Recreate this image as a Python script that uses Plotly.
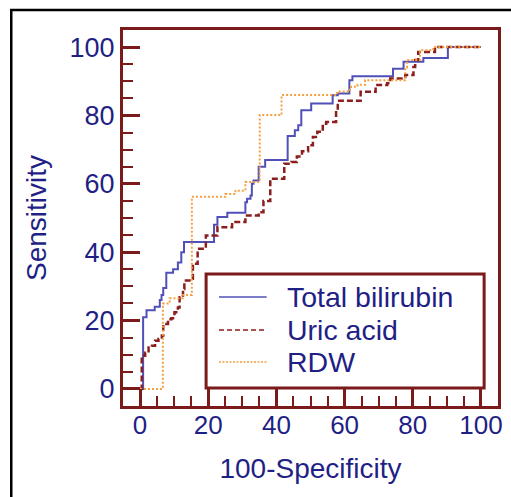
import plotly.graph_objects as go

# ---- data ----
series_names = ["Total bilirubin", "Uric acid", "RDW"]

fpr_bilirubin = [0, 0.9, 1.9, 4.3, 5.8, 6.3, 6.8, 7.7, 9.7, 11.1, 12.1, 12.9, 21.7, 22.7, 25.6,
                 30.9, 31.4, 32.4, 32.8, 33.3, 34.8, 36.7, 43.3, 45.4, 46.4, 47.3, 50.2, 56.5,
                 58.0, 61.4, 62.3, 74.2, 77.3, 83.1, 90.3, 100]
tpr_bilirubin = [0, 21, 23, 24, 26, 27.5, 29.5, 34, 35, 37, 40, 43, 48, 50.3, 51.5,
                 54.6, 55.6, 56.6, 60, 61, 65, 67, 74, 75.7, 77.1, 81.5, 83.5, 85.9,
                 86.4, 90.3, 91.5, 93.7, 95.7, 96.8, 100, 100]

fpr_uric = [0, 0.5, 1.5, 2.5, 3.5, 4.4, 5.4, 6.4, 6.8, 8.2, 9.2, 10.1, 11.1, 11.6, 12.6, 13.0,
            14.5, 15.5, 16.9, 19.3, 22.7, 27.0, 30.9, 34.8, 36.2, 38.2, 42.3, 44.4, 46.0, 47.5,
            49.3, 50.7, 52.0, 53.6, 54.6, 57.5, 58.0, 64.7, 69.1, 72.5, 73.4, 77.8, 80.2, 80.7,
            81.6, 86.5, 100]
tpr_uric = [0, 9.7, 10.6, 12.1, 12.6, 14.1, 14.6, 15.6, 19, 20.4, 20.7, 22.4, 23.8, 26.8, 29.2, 31.7,
            32.2, 36.6, 41, 44.9, 47.3, 48.8, 50.7, 51.7, 55, 61.5, 65.9, 66.4, 68, 69.5,
            71.3, 73.7, 75.2, 77.6, 78.1, 81.5, 84.3, 86.9, 88.9, 89.4, 90.8, 91.8, 94.2, 96.2,
            98.6, 100, 100]

fpr_rdw = [0, 6.7, 8.7, 12.5, 15.2, 25.0, 28.0, 30.9, 35.1, 41.5, 57.8, 60.9, 61.9, 63.8,
           66.0, 77.8, 78.3, 82.1, 86.0, 100]
tpr_rdw = [0, 25, 26.5, 27.5, 56.2, 57, 58, 60.5, 80.1, 86, 87, 87.5, 88.4, 89,
           90.3, 94, 96.2, 99.1, 100, 100]

x_ticks = [0, 20, 40, 60, 80, 100]
y_ticks = [0, 20, 40, 60, 80, 100]

# ---- styling ----
FRAME = "#7A1A1A"
TEXT = "#1F1F85"
FONT = "Liberation Sans, Arial, sans-serif"
colors = ["#5050B8", "#8B1E1E", "#F4A040"]
widths = [2, 2.5, 2]
dashes = ["solid", "6px,3px", "2px,2px"]

fig = go.Figure()
for name, xs, ys, c, w, d in zip(series_names,
                                 [fpr_bilirubin, fpr_uric, fpr_rdw],
                                 [tpr_bilirubin, tpr_uric, tpr_rdw],
                                 colors, widths, dashes):
    fig.add_trace(go.Scatter(x=xs, y=ys, mode="lines", name=name, showlegend=False,
                             line=dict(color=c, width=w, dash=d, shape="hv")))

axis_common = dict(
    range=[-5, 105],
    showline=True, linecolor=FRAME, linewidth=3, mirror=True,
    ticks="inside", ticklen=17, tickwidth=2.5, tickcolor=FRAME,
    minor=dict(ticks="inside", dtick=5, ticklen=10, tickwidth=2, tickcolor=FRAME),
    showgrid=False, zeroline=False,
)

fig.update_xaxes(**axis_common, tickvals=x_ticks, ticklabelstandoff=-6,
                 tickfont=dict(family=FONT, size=26, color=TEXT),
                 title=dict(text="100-Specificity", font=dict(family=FONT, size=28, color=TEXT), standoff=20))
fig.update_yaxes(**axis_common, tickvals=y_ticks,
                 tickfont=dict(family=FONT, size=27, color=TEXT),
                 title=dict(text="Sensitivity", font=dict(family=FONT, size=28, color=TEXT), standoff=15))

# ---- legend box (drawn as layout decoration, in paper coordinates) ----
leg_x0, leg_x1, leg_y0, leg_y1 = 0.2216, 0.963, 0.048, 0.351
row_y = [0.290, 0.202, 0.117]
sample_x0, sample_x1, text_x = 0.256, 0.383, 0.433

shapes = [
    dict(type="rect", xref="paper", yref="paper",
         x0=-0.298, x1=1.2, y0=-0.4, y1=1.053,
         line=dict(color="black", width=2.5), layer="below"),
    dict(type="rect", xref="paper", yref="paper",
         x0=leg_x0, x1=leg_x1, y0=leg_y0, y1=leg_y1,
         line=dict(color=FRAME, width=3), fillcolor="white", layer="above"),
]
annotations = []
for name, c, d, ry in zip(series_names, colors, ["solid", "5px,3px", "2px,1.5px"], row_y):
    shapes.append(dict(type="line", xref="paper", yref="paper",
                       x0=sample_x0, x1=sample_x1, y0=ry, y1=ry,
                       line=dict(color=c, width=1.6, dash=d), layer="above"))
    annotations.append(dict(xref="paper", yref="paper", x=text_x, y=ry,
                            xanchor="left", yanchor="middle", showarrow=False,
                            text=name, font=dict(family=FONT, size=28.5, color=TEXT)))

fig.update_layout(
    width=511, height=497,
    margin=dict(l=123, r=9, t=30, b=91),
    plot_bgcolor="white", paper_bgcolor="white",
    font=dict(family=FONT, color=TEXT),
    showlegend=False,
    shapes=shapes,
    annotations=annotations,
)

fig.write_html("out.html")
